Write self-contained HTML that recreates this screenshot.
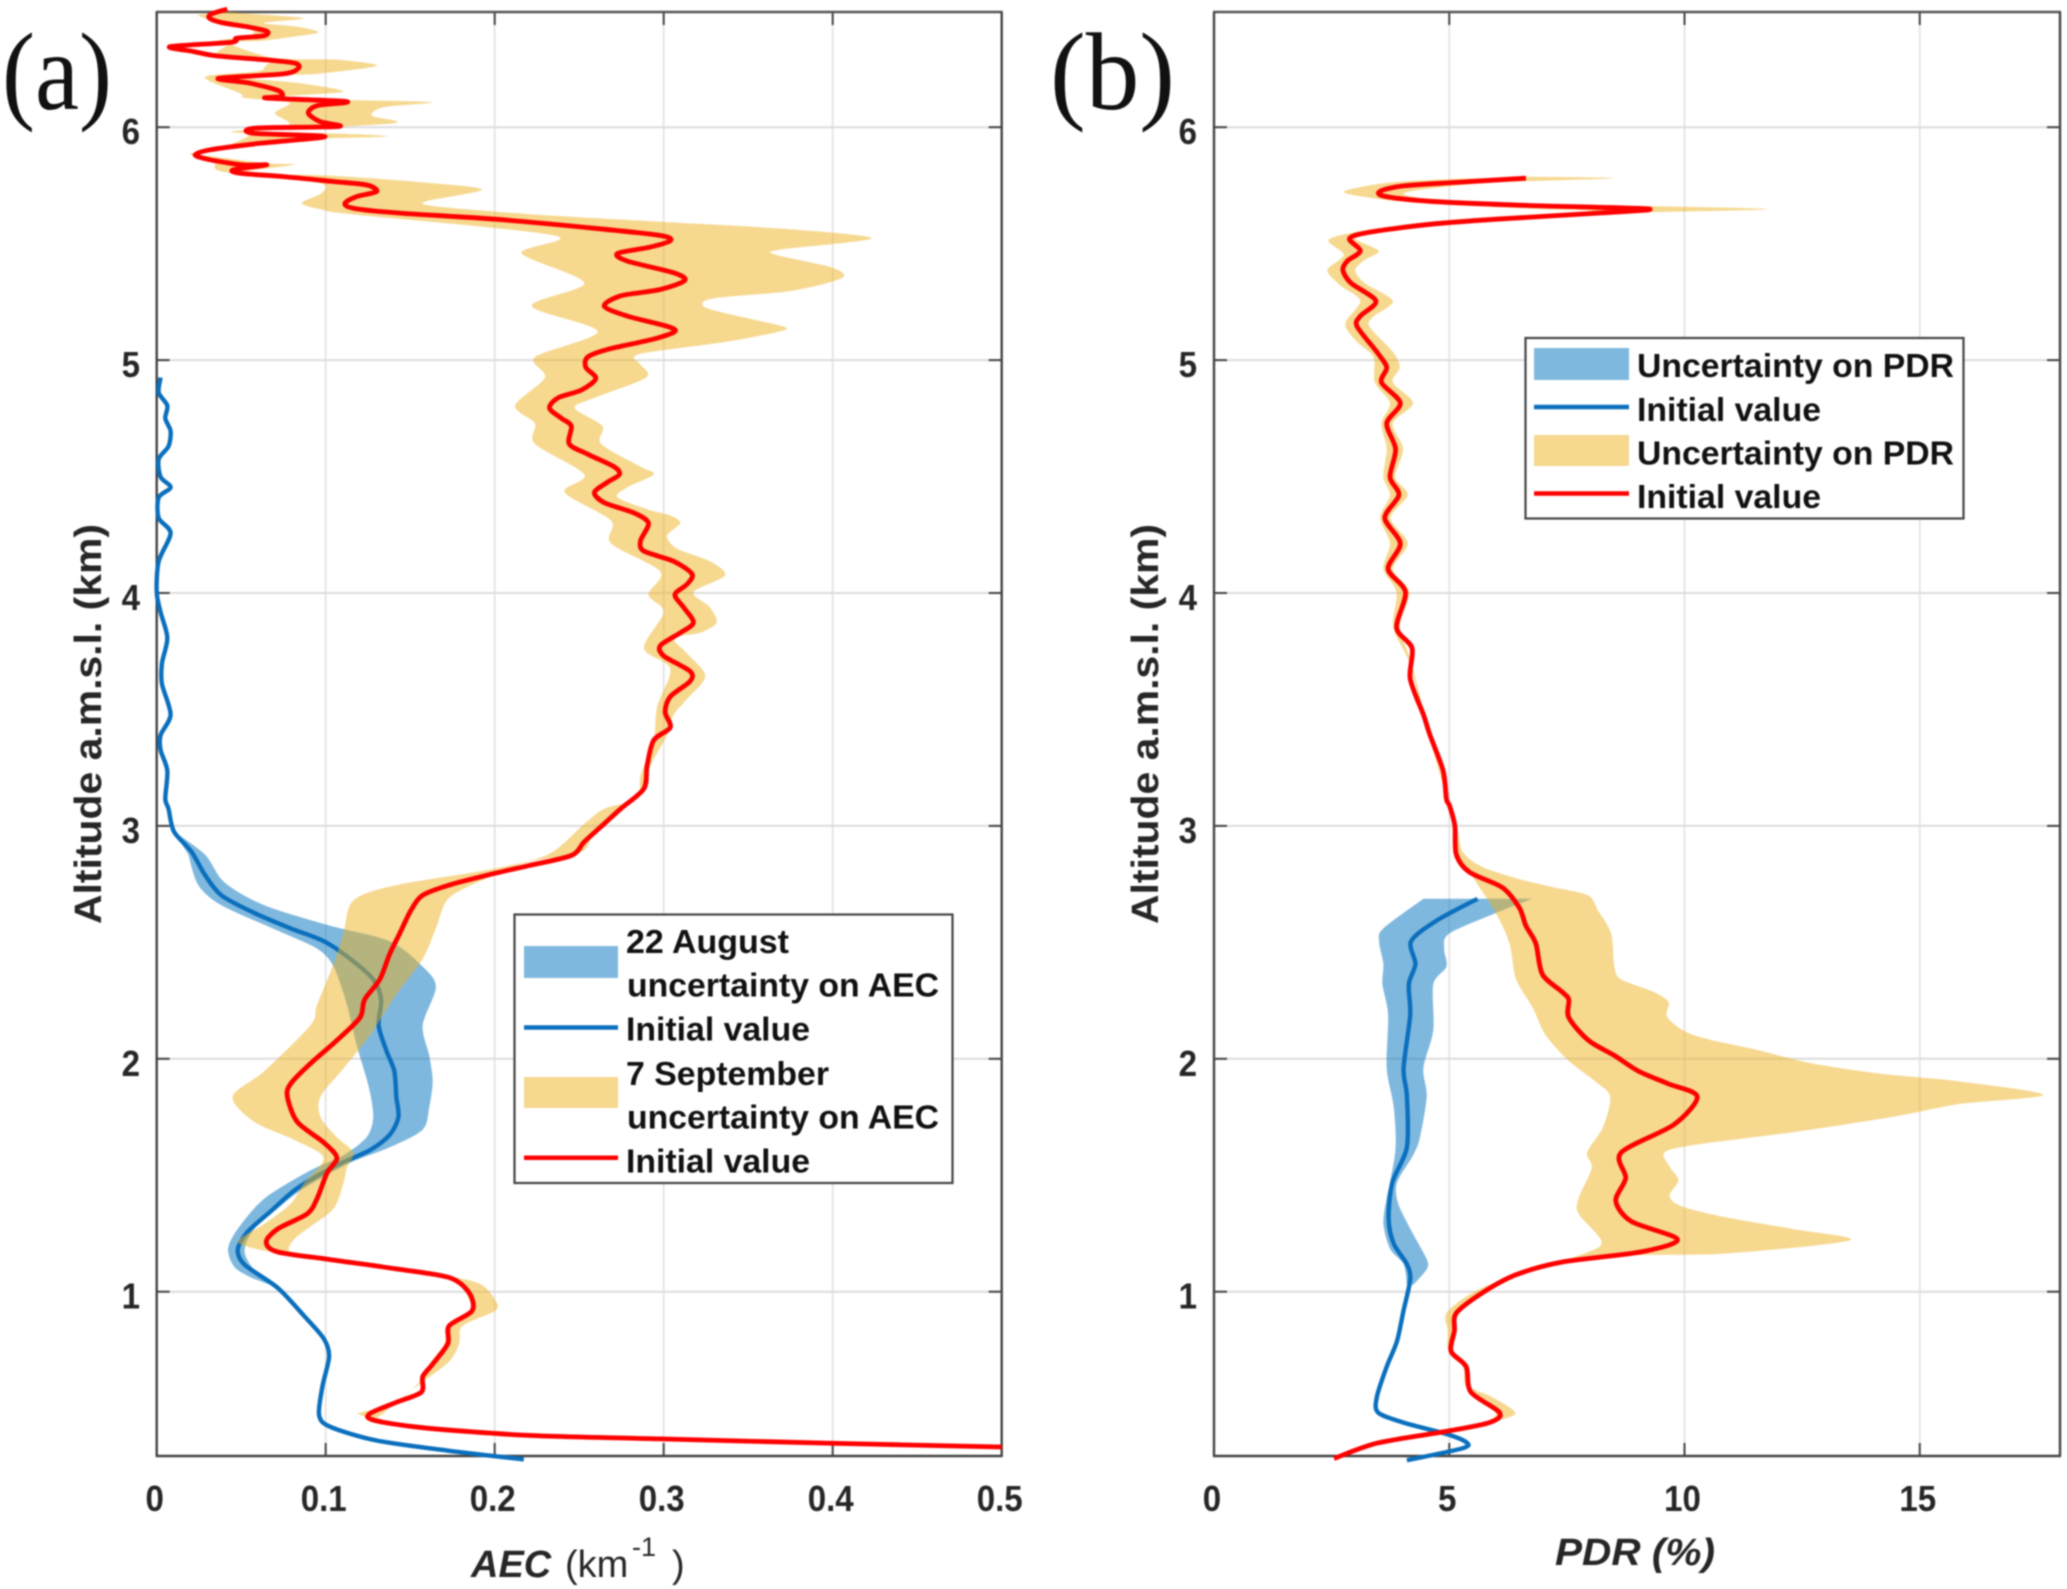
<!DOCTYPE html>
<html lang="en">
<head>
<meta charset="utf-8">
<title>AEC and PDR profiles</title>
<style>
html,body{margin:0;padding:0;background:#fff;}
svg{display:block;}
text{font-family:"Liberation Sans",Arial,sans-serif;fill:#222;}
.tick{font-size:36px;font-weight:bold;fill:#262626;}
.leg{font-size:33.4px;font-weight:bold;fill:#111;}
.ytitle{font-size:38px;font-weight:bold;fill:#262626;}
.xtitle{font-size:38px;fill:#262626;}
.panel{font-family:"Liberation Serif",serif;font-size:110px;fill:#111;}
</style>
</head>
<body>
<svg id="chart" xmlns="http://www.w3.org/2000/svg" width="2067" height="1589" viewBox="0 0 2067 1589">
  <rect x="0" y="0" width="2067" height="1589" fill="#fff"/>
  <g id="root" style="filter:blur(0.85px)">
    <g id="panelA"></g>
    <g id="panelB"></g>

    <text class="panel" x="2" y="109" textLength="110" lengthAdjust="spacingAndGlyphs">(a)</text>
    <text class="panel" x="1050" y="109" textLength="125" lengthAdjust="spacingAndGlyphs">(b)</text>

    <text class="ytitle" transform="translate(101,724) rotate(-90)" text-anchor="middle" textLength="400" lengthAdjust="spacingAndGlyphs">Altitude a.m.s.l. (km)</text>
    <text class="ytitle" transform="translate(1158,724) rotate(-90)" text-anchor="middle" textLength="400" lengthAdjust="spacingAndGlyphs">Altitude a.m.s.l. (km)</text>

    <g>
      <text class="xtitle" x="471" y="1577" font-weight="bold" font-style="italic">AEC</text>
      <text class="xtitle" x="565" y="1577">(km</text>
      <text class="xtitle" x="632" y="1556" style="font-size:27px">-1</text>
      <text class="xtitle" x="672" y="1577">)</text>
    </g>
    <text class="xtitle" x="1555" y="1565" font-weight="bold" font-style="italic" textLength="160" lengthAdjust="spacingAndGlyphs">PDR (%)</text>

    <g>
      <rect x="514.5" y="914.5" width="438" height="268.5" fill="#fff" stroke="#444" stroke-width="2.2"/>
      <rect x="524" y="946" width="94" height="32" fill="#0072BD" fill-opacity="0.5"/>
      <line x1="524" x2="618" y1="1027.5" y2="1027.5" stroke="#0a6fbd" stroke-width="4.5"/>
      <rect x="524" y="1077" width="94" height="31" fill="#EDB120" fill-opacity="0.5"/>
      <line x1="524" x2="618" y1="1157.8" y2="1157.8" stroke="#f00" stroke-width="4.5"/>
      <text class="leg" x="626" y="953" textLength="163" lengthAdjust="spacingAndGlyphs">22 August</text>
      <text class="leg" x="627" y="996.5" textLength="312" lengthAdjust="spacingAndGlyphs">uncertainty on AEC</text>
      <text class="leg" x="626" y="1040.5" textLength="184" lengthAdjust="spacingAndGlyphs">Initial value</text>
      <text class="leg" x="626" y="1085" textLength="203" lengthAdjust="spacingAndGlyphs">7 September</text>
      <text class="leg" x="627" y="1128.5" textLength="312" lengthAdjust="spacingAndGlyphs">uncertainty on AEC</text>
      <text class="leg" x="626" y="1172.5" textLength="184" lengthAdjust="spacingAndGlyphs">Initial value</text>
    </g>

    <g>
      <rect x="1525.5" y="338" width="438" height="180.5" fill="#fff" stroke="#444" stroke-width="2.2"/>
      <rect x="1534" y="348" width="95" height="32" fill="#0072BD" fill-opacity="0.5"/>
      <line x1="1534" x2="1629" y1="407" y2="407" stroke="#0a6fbd" stroke-width="4.5"/>
      <rect x="1534" y="435" width="95" height="31" fill="#EDB120" fill-opacity="0.5"/>
      <line x1="1534" x2="1629" y1="493.5" y2="493.5" stroke="#f00" stroke-width="4.5"/>
      <text class="leg" x="1637" y="377" textLength="317" lengthAdjust="spacingAndGlyphs">Uncertainty on PDR</text>
      <text class="leg" x="1637" y="421" textLength="184" lengthAdjust="spacingAndGlyphs">Initial value</text>
      <text class="leg" x="1637" y="464.5" textLength="317" lengthAdjust="spacingAndGlyphs">Uncertainty on PDR</text>
      <text class="leg" x="1637" y="508" textLength="184" lengthAdjust="spacingAndGlyphs">Initial value</text>
    </g>
  </g>
</svg>
<script>
// ---- axis tick data ----
const altitudeTicks = [1, 2, 3, 4, 5, 6];
const aecTicks = [0, 0.1, 0.2, 0.3, 0.4, 0.5];
const aecTickLabels = ['0', '0.1', '0.2', '0.3', '0.4', '0.5'];
const pdrTicks = [0, 5, 10, 15];
const pdrTickLabels = ['0', '5', '10', '15'];

// ---- panel (a) AEC: 7 September initial value ----
const aecSepAlt = [6.507,6.487,6.468,6.449,6.429,6.411,6.392,6.382,6.365,6.346,6.325,6.306,6.289,6.275,6.253,6.229,6.21,6.189,6.157,6.132,6.125,6.11,6.092,6.06,6.024,6.003,5.996,5.974,5.96,5.931,5.903,5.881,5.86,5.838,5.838,5.817,5.802,5.788,5.767,5.752,5.724,5.702,5.674,5.652,5.631,5.605,5.566,5.535,5.513,5.485,5.458,5.425,5.375,5.342,5.303,5.276,5.232,5.189,5.145,5.123,5.09,5.046,5.013,4.969,4.921,4.871,4.838,4.794,4.75,4.717,4.64,4.596,4.542,4.509,4.476,4.432,4.388,4.344,4.3,4.224,4.18,4.136,4.081,4.037,3.993,3.939,3.873,3.829,3.774,3.73,3.664,3.621,3.555,3.489,3.423,3.368,3.259,3.16,3.074,3.009,2.932,2.873,2.829,2.79,2.746,2.702,2.637,2.538,2.451,2.341,2.254,2.177,2.079,1.98,1.893,1.838,1.729,1.641,1.575,1.51,1.4,1.335,1.269,1.214,1.171,1.138,1.098,1.061,0.996,0.919,0.853,0.777,0.689,0.635,0.569,0.525,0.477,0.449,0.416,0.383,0.368,0.35,0.333];
const aecSepVal = [.0418,.0325,.0312,.0385,.0552,.0655,.0631,.0473,.0444,.0079,.0217,.0355,.0651,.0819,.0838,.075,.0365,.0552,.072,.074,.0651,.1124,.0947,.0897,.0966,.1075,.0582,.0572,.0996,.0611,.0316,.0227,.0316,.0513,.0651,.0454,.0493,.075,.1045,.1243,.1302,.1183,.1114,.1164,.144,.2004,.259,.298,.304,.292,.2727,.2785,.306,.3125,.298,.2746,.2648,.2785,.302,.3066,.294,.2668,.255,.2539,.2598,.2512,.2375,.2324,.2395,.2453,.2441,.2551,.2707,.2738,.2668,.259,.2648,.2824,.291,.2863,.2883,.3059,.3168,.3137,.3066,.3117,.3176,.3098,.298,.3,.3156,.3156,.3039,.3008,.3039,.2941,.2902,.2883,.2746,.2648,.2531,.2453,.2199,.1965,.173,.1574,.1504,.1438,.1379,.132,.123,.1203,.1066,.091,.0793,.0773,.0832,.0988,.1066,.1008,.0949,.0891,.0715,.0648,.0715,.1027,.1418,.173,.1848,.1867,.173,.1723,.1633,.1574,.1566,.1418,.1262,.1281,.1574,.2199,.298,.3957,.5];

// ---- panel (a) AEC: 22 August initial value ----
const aecAugAlt = [4.925,4.86,4.805,4.75,4.695,4.63,4.575,4.498,4.454,4.41,4.322,4.257,4.136,4.004,3.917,3.807,3.697,3.61,3.478,3.39,3.325,3.237,3.116,3.074,2.976,2.888,2.79,2.702,2.626,2.56,2.505,2.429,2.341,2.254,2.144,2.035,1.947,1.838,1.75,1.674,1.608,1.543,1.444,1.346,1.258,1.182,1.116,1.017,.897,.799,.722,.591,.47,.42,.361,.317,.28];
const aecAugVal = [.0023,.0012,.0063,.0051,.0082,.007,.0012,.0023,.0082,.0012,.0012,.0082,.0012,0,.0023,.0063,.0031,.0031,.0082,.0023,.0023,.0063,.0051,.007,.0102,.0207,.0285,.0383,.0578,.0793,.0988,.1145,.1281,.1328,.1313,.1359,.1406,.1418,.143,.1379,.1262,.1066,.0832,.0676,.0539,.048,.052,.0715,.0871,.0988,.102,.098,.0961,.1027,.1301,.173,.2172];

// ---- panel (a) AEC: 22 August uncertainty band ----
const aecAugHighAlt = [2.976,2.877,2.757,2.659,2.571,2.505,2.396,2.308,2.144,2.013,1.904,1.794,1.696,1.62,1.554,1.444,1.357,1.27,1.182,1.11,1.03];
const aecAugHighVal = [.0102,.0285,.0402,.0637,.1027,.1379,.1574,.1652,.1574,.1613,.1633,.1613,.1574,.1379,.1145,.0871,.0715,.0578,.052,.056,.067];
const aecAugLowAlt = [1.06,1.105,1.182,1.27,1.4,1.521,1.586,1.663,1.75,1.882,2.057,2.234,2.396,2.473,2.551,2.659,2.746,2.877];
const aecAugLowVal = [.056,.0461,.0422,.048,.0637,.091,.1105,.1242,.1281,.1254,.1184,.1125,.1047,.0949,.0715,.0383,.0246,.0187];

// ---- panel (a) AEC: 7 September uncertainty band ----
const aecSepHighAlt = [.449,.477,.525,.613,.7,.777,.853,.919,.963,1.028,1.061,1.098,1.138,1.171,1.225,1.28,1.357,1.466,1.532,1.597,1.663,1.75,1.838,1.958,2.101,2.276,2.429,2.56,2.691,2.779,2.845,2.888,2.976,3.074,3.151,3.259,3.39,3.478,3.544,3.643,3.741,3.807,3.829,3.873,3.939,4.004,4.075,4.136,4.191,4.246,4.3,4.333,4.355,4.41,4.454,4.509,4.542,4.64,4.717,4.794,4.838,4.925,4.98,5.013,5.035,5.079,5.123,5.145,5.2,5.232,5.265,5.298,5.353,5.397,5.452,5.474,5.522,5.561,5.594,5.627,5.66,5.682,5.732,5.763,5.792,5.803,5.838,5.845,5.874,5.888,5.917,5.946,5.96,5.974,5.981,6.017,6.049,6.086,6.107,6.117,6.132,6.153,6.189,6.21,6.225,6.229,6.263,6.289,6.292,6.303,6.361,6.372,6.389,6.408,6.432,6.447,6.468,6.487,6.495];
const aecSepHighVal = [.1281,.134,.1418,.1574,.173,.179,.1809,.2004,.2004,.1926,.177,.1418,.1027,.0793,.0813,.091,.1047,.1105,.1125,.1164,.1066,.0969,.0969,.1105,.1262,.1418,.1574,.1652,.173,.1965,.2199,.2512,.259,.2746,.2883,.2922,.302,.3059,.3137,.3246,.3137,.3059,.3215,.3313,.3273,.3176,.3363,.3273,.3078,.302,.3098,.3039,.2922,.2727,.2785,.2941,.2863,.2629,.2637,.2473,.259,.2895,.2863,.2824,.2922,.3371,.3684,.3703,.3371,.3234,.3293,.3762,.4055,.3996,.3664,.3684,.423,.3762,.298,.2199,.1652,.1594,.1926,.1574,.1027,.048,.0809,.0651,.0335,.0217,.0355,.075,.1361,.1006,.0552,.14,.1272,.1341,.1627,.1144,.075,.1105,.0848,.0552,.0789,.0947,.1302,.1085,.0828,.0651,.0434,.0631,.0809,.0957,.0828,.0631,.0868,.0552,.0414];
const aecSepLowAlt = [6.482,6.461,6.425,6.392,6.372,6.365,6.31,6.289,6.26,6.239,6.215,6.146,6.127,6.117,6.103,6.06,6.01,5.981,5.967,5.903,5.885,5.853,5.817,5.795,5.76,5.717,5.674,5.645,5.627,5.535,5.458,5.331,5.232,5.123,5.013,4.925,4.805,4.728,4.64,4.509,4.432,4.311,4.213,4.092,3.993,3.917,3.763,3.675,3.511,3.368,3.215,3.116,3.074,3.009,2.877,2.812,2.746,2.68,2.538,2.407,2.232,2.144,1.947,1.838,1.729,1.652,1.575,1.466,1.378,1.291,1.214,1.171,1.138,1.098,1.061,.996,.919,.853,.777,.689,.613,.525,.477];
const aecSepLowVal = [.0237,.0316,.0552,.0552,.0355,.0444,.0355,.0651,.0641,.0592,.0286,.0493,.0513,.0651,.0789,.07,.0779,.0444,.0552,.0355,.0197,.0335,.0355,.0513,.0966,.0976,.0858,.0986,.1145,.2355,.216,.2531,.2219,.2609,.2238,.2297,.2121,.2238,.2238,.2531,.2414,.2688,.2688,.298,.291,.3,.2883,.3039,.2961,.2941,.2863,.2844,.2648,.2531,.2316,.1965,.1418,.1164,.1105,.1047,.0949,.091,.0637,.0449,.0578,.0813,.0988,.0871,.0793,.0637,.048,.0676,.1027,.1418,.173,.1828,.1855,.172,.1703,.1613,.1555,.1418,.1184];

// ---- panel (b) PDR: 7 September initial value ----
const pdrSepAlt = [5.781,5.763,5.748,5.726,5.704,5.682,5.664,5.649,5.632,5.605,5.583,5.55,5.522,5.469,5.425,5.386,5.331,5.254,5.189,5.145,5.035,4.969,4.904,4.816,4.728,4.618,4.498,4.421,4.322,4.213,4.103,4.004,3.851,3.763,3.632,3.478,3.39,3.237,3.116,3.085,3,2.877,2.801,2.735,2.648,2.571,2.495,2.363,2.287,2.254,2.177,2.079,2.013,1.947,1.893,1.838,1.718,1.597,1.488,1.39,1.302,1.225,1.171,1.127,1.072,.996,.908,.832,.744,.678,.569,.481,.438,.398,.35,.284];
const pdrSepVal = [6.63,5.15,4.03,3.54,3.61,4.59,6.7,9.23,8.24,6,4.59,3.33,2.88,3.11,2.83,2.74,2.91,3.44,3.11,3.04,3.46,3.67,3.56,3.96,3.67,3.86,3.74,3.93,3.63,3.96,3.7,4.07,3.88,4.21,4.17,4.45,4.59,4.87,4.94,5.01,5.12,5.15,5.43,6.13,6.49,6.63,6.84,6.98,7.4,7.54,7.54,7.96,8.52,9.02,9.65,10.27,9.78,8.65,8.75,8.54,8.87,9.85,9.08,7.39,6.41,5.71,5.15,5.11,5.04,5.36,5.46,6.07,5.85,4.87,3.47,2.55];

// ---- panel (b) PDR: 22 August initial value ----
const pdrAugAlt = [.276,.328,.354,.389,.438,.481,.547,.678,.788,.92,1.052,1.118,1.206,1.315,1.468,1.621,1.84,1.96,2.189,2.32,2.407,2.505,2.593,2.687];
const pdrAugVal = [4.1,5.29,5.36,4.94,4.03,3.49,3.46,3.67,3.89,4.03,4.17,4.1,3.82,3.71,3.79,4.1,4.1,4.03,4.17,4.14,4.28,4.19,4.73,5.6];

// ---- panel (b) PDR: 22 August uncertainty band ----
const pdrAugLowAlt = [2.687,2.56,2.505,2.407,2.32,2.189,1.96,1.794,1.621,1.468,1.403,1.293,1.184,1.118,1.03];
const pdrAugLowVal = [4.45,3.6,3.51,3.6,3.58,3.7,3.67,3.82,3.86,3.74,3.67,3.6,3.74,4.03,4.1];
const pdrAugHighAlt = [1.03,1.096,1.14,1.271,1.381,1.468,1.589,1.665,1.84,1.96,2.123,2.32,2.396,2.473,2.538,2.626,2.687];
const pdrAugHighVal = [4.24,4.52,4.52,4.17,3.91,3.89,4.24,4.38,4.52,4.45,4.66,4.66,4.94,4.89,5,5.99,6.76];

// ---- panel (b) PDR: 7 September uncertainty band ----
const pdrSepHighAlt = [.438,.477,.547,.591,.678,.744,.832,.908,.996,1.072,1.127,1.156,1.164,1.221,1.269,1.324,1.368,1.412,1.477,1.532,1.597,1.63,1.685,1.75,1.805,1.845,1.904,1.937,1.98,2.035,2.101,2.177,2.243,2.287,2.341,2.396,2.538,2.637,2.702,2.735,2.768,2.823,2.888,3,3.39,3.7,3.851,4.004,4.103,4.213,4.322,4.421,4.498,4.618,4.728,4.816,4.904,4.969,5.035,5.145,5.189,5.254,5.331,5.386,5.43,5.469,5.522,5.55,5.583,5.605,5.632,5.649,5.671,5.693,5.715,5.737,5.763,5.781,5.787];
const pdrSepHighVal = [5.85,6.41,5.92,5.46,5.36,5.04,5.11,5.15,5.71,6.41,7.39,8.79,10.9,13.52,12.3,10.76,9.92,9.68,9.87,9.7,9.57,10.2,12.3,14.41,15.81,17.63,15.81,14.12,12.72,11.6,10.2,9.64,9.66,9.35,8.65,8.51,8.44,8.16,7.95,7.25,6.55,5.71,5.29,5.15,4.59,4.2,3.95,4.15,3.8,4.12,3.75,4.12,3.85,4.02,3.8,4.23,3.8,3.95,3.8,3.3,3.4,3.8,3.2,3,3.2,3.5,3,3.4,4.8,6.5,8.8,11.74,7,4.59,4.03,4.59,6,8.49,6.63];
const pdrSepLowAlt = [5.785,5.776,5.759,5.722,5.693,5.671,5.649,5.64,5.616,5.594,5.561,5.518,5.452,5.386,5.32,5.254,5.156,5.079,5.013,4.904,4.816,4.728,4.618,4.498,4.421,4.322,4.213,4.103,4.004,3.851,3.7,3.4,3,2.877,2.801,2.626,2.495,2.341,2.221,2.101,1.991,1.904,1.838,1.707,1.597,1.532,1.4,1.335,1.214,1.16,1.072,.996,.908,.832,.744,.678,.591,.525,.47];
const pdrSepLowVal = [6.63,4.87,3.6,2.76,3.46,4.59,6.83,8,6,4.59,3.33,2.44,2.76,2.41,2.69,3.11,2.79,3.04,3.39,3.42,3.74,3.56,3.67,3.6,3.74,3.53,3.74,3.6,3.88,3.81,4.15,4.55,5.1,5.15,5.43,5.99,6.28,6.42,6.77,7.05,7.54,8.1,8.42,8.27,7.93,8.03,7.75,7.75,8.24,7.82,6.41,5.5,4.94,4.97,4.98,5.29,5.36,5.85,6];

// ---- axis functions ----
const PLOT_TOP = 12, PLOT_BOTTOM = 1456;
const yAlt = h => 1291.7 - (h - 1) * 232.9;
const xAec = v => 156.7 + v * 1690;
const xPdr = p => 1214 + p * 47.05;
const NS = 'http://www.w3.org/2000/svg';

function smoothSegments(pts, start) {
  let d = start ? 'M' + pts[0][0].toFixed(1) + ' ' + pts[0][1].toFixed(1) : 'L' + pts[0][0].toFixed(1) + ' ' + pts[0][1].toFixed(1);
  for (let i = 0; i < pts.length - 1; i++) {
    const p0 = pts[Math.max(i - 1, 0)], p1 = pts[i], p2 = pts[i + 1], p3 = pts[Math.min(i + 2, pts.length - 1)];
    const k = 7;
    const c1x = p1[0] + (p2[0] - p0[0]) / k, c1y = p1[1] + (p2[1] - p0[1]) / k;
    const c2x = p2[0] - (p3[0] - p1[0]) / k, c2y = p2[1] - (p3[1] - p1[1]) / k;
    d += 'C' + c1x.toFixed(1) + ' ' + c1y.toFixed(1) + ' ' + c2x.toFixed(1) + ' ' + c2y.toFixed(1) + ' ' + p2[0].toFixed(1) + ' ' + p2[1].toFixed(1);
  }
  return d;
}
function toPts(alts, vals, xf) {
  return alts.map((h, i) => [xf(vals[i]), yAlt(h)]);
}
function drawLine(group, alts, vals, xf, color, width, name) {
  const el = document.createElementNS(NS, 'path');
  el.setAttribute('d', smoothSegments(toPts(alts, vals, xf), true));
  el.setAttribute('fill', 'none');
  el.setAttribute('stroke', color);
  el.setAttribute('stroke-width', width);
  el.setAttribute('stroke-linejoin', 'round');
  
  
  group.appendChild(el);
}
function drawBand(group, altA, valA, altB, valB, xf, color, name) {
  const el = document.createElementNS(NS, 'path');
  const d = smoothSegments(toPts(altA, valA, xf), true) + smoothSegments(toPts(altB, valB, xf), false) + 'Z';
  el.setAttribute('d', d);
  el.setAttribute('fill', color);
  el.setAttribute('fill-opacity', '0.5');
  
  
  group.appendChild(el);
}
function addLine(group, x1, y1, x2, y2, color, width, name) {
  const el = document.createElementNS(NS, 'line');
  el.setAttribute('x1', x1);
  el.setAttribute('y1', y1);
  el.setAttribute('x2', x2);
  el.setAttribute('y2', y2);
  el.setAttribute('stroke', color);
  el.setAttribute('stroke-width', width);
  
  
  group.appendChild(el);
}
function addText(group, x, y, anchor, str, name) {
  const el = document.createElementNS(NS, 'text');
  el.setAttribute('class', 'tick');
  el.setAttribute('x', x);
  el.setAttribute('y', y);
  el.setAttribute('text-anchor', anchor);
  el.textContent = str;
  
  
  group.appendChild(el);
  el.setAttribute('textLength', (el.getComputedTextLength() * 0.92).toFixed(1));
  el.setAttribute('lengthAdjust', 'spacingAndGlyphs');
}
function drawGrid(group, xf, xTicks, left, right) {
  xTicks.forEach(t => {
    if (xf(t) > left + 2 && xf(t) < right - 2) addLine(group, xf(t), PLOT_TOP, xf(t), PLOT_BOTTOM, '#e4e4e4', 1.8, 'x-gridline');
  });
  altitudeTicks.forEach(h => addLine(group, left, yAlt(h), right, yAlt(h), '#dcdcdc', 2, 'y-gridline'));
}
function drawFrame(group, xf, xTicks, xLabels, left, right, yLabelX) {
  xTicks.forEach((t, i) => {
    const x = xf(t);
    if (x > left + 2 && x < right - 2) {
      addLine(group, x, PLOT_BOTTOM, x, PLOT_BOTTOM - 13, '#444', 2, 'x-tick-bottom');
      addLine(group, x, PLOT_TOP, x, PLOT_TOP + 13, '#444', 2, 'x-tick-top');
    }
    addText(group, x - 2, 1511, 'middle', xLabels[i], 'x-tick-label');
  });
  altitudeTicks.forEach(h => {
    const y = yAlt(h);
    addLine(group, left, y, left + 13, y, '#444', 2, 'y-tick-left');
    addLine(group, right, y, right - 13, y, '#444', 2, 'y-tick-right');
    addText(group, yLabelX, y + 17, 'end', String(h), 'y-tick-label');
  });
  addLine(group, left - 1, PLOT_TOP, right + 1, PLOT_TOP, '#555', 2.4, 'axis-top');
  addLine(group, left - 1, PLOT_BOTTOM, right + 1, PLOT_BOTTOM, '#444', 2.4, 'axis-bottom');
  addLine(group, left, PLOT_TOP, left, PLOT_BOTTOM, '#444', 2.4, 'axis-left');
  addLine(group, right, PLOT_TOP, right, PLOT_BOTTOM, '#444', 2.4, 'axis-right');
}

// ---- panel (a) ----
const gA = document.getElementById('panelA');
drawGrid(gA, xAec, aecTicks, xAec(0), xAec(0.5));
drawFrame(gA, xAec, aecTicks, aecTickLabels, xAec(0), xAec(0.5), 140);
drawBand(gA, aecAugHighAlt, aecAugHighVal, aecAugLowAlt, aecAugLowVal, xAec, '#0072BD', 'aec-august-uncertainty-band');
drawLine(gA, aecAugAlt, aecAugVal, xAec, '#0a6fbd', 4.4, 'aec-august-line');
drawBand(gA, aecSepHighAlt, aecSepHighVal, aecSepLowAlt, aecSepLowVal, xAec, '#EDB120', 'aec-september-uncertainty-band');
drawLine(gA, aecSepAlt, aecSepVal, xAec, '#ff0000', 4.8, 'aec-september-line');

// ---- panel (b) ----
const gB = document.getElementById('panelB');
drawGrid(gB, xPdr, pdrTicks, xPdr(0), 2060);
drawFrame(gB, xPdr, pdrTicks, pdrTickLabels, xPdr(0), 2060, 1197);
drawBand(gB, pdrAugLowAlt, pdrAugLowVal, pdrAugHighAlt, pdrAugHighVal, xPdr, '#0072BD', 'pdr-august-uncertainty-band');
drawLine(gB, pdrAugAlt, pdrAugVal, xPdr, '#0a6fbd', 4.4, 'pdr-august-line');
drawBand(gB, pdrSepHighAlt, pdrSepHighVal, pdrSepLowAlt, pdrSepLowVal, xPdr, '#EDB120', 'pdr-september-uncertainty-band');
drawLine(gB, pdrSepAlt, pdrSepVal, xPdr, '#ff0000', 4.8, 'pdr-september-line');
</script>
</body>
</html>
